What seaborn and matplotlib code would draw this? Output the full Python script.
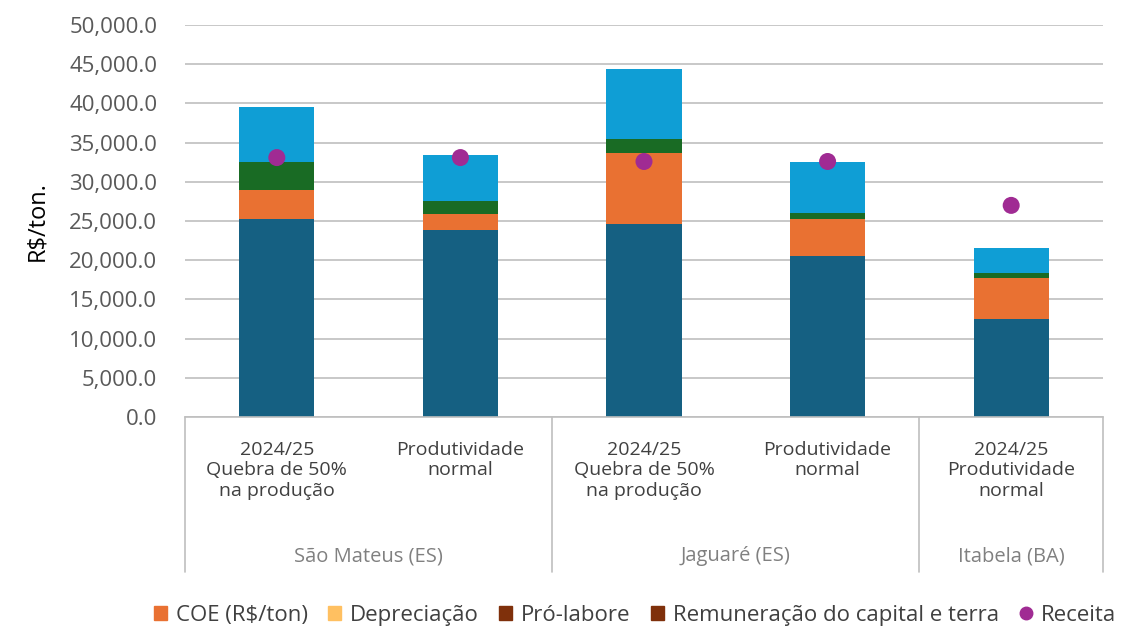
import matplotlib
matplotlib.use("Agg")
import matplotlib.pyplot as plt
import matplotlib.transforms as mtransforms
from matplotlib.patches import Patch
from matplotlib.lines import Line2D
import numpy as np
import pandas as pd
import seaborn as sns

# data (R$/ton)
categorias = [
    "2024/25\nQuebra de 50%\nna produção",
    "Produtividade\nnormal",
    "2024/25\nQuebra de 50%\nna produção",
    "Produtividade\nnormal",
    "2024/25\nProdutividade\nnormal",
]
grupos = ["São Mateus (ES)", "Jaguaré (ES)", "Itabela (BA)"]
grupo_limites = [-0.5, 1.5, 3.5, 4.5]

seg_azul_escuro = [25300, 23850, 24600, 20500, 12500]
seg_coe = [3650, 2050, 9100, 4750, 5200]
seg_verde = [3550, 1650, 1800, 750, 700]
seg_azul_claro = [7000, 5850, 8900, 6500, 3150]
receita = [33100, 33100, 32600, 32600, 27000]

cores = ["#156082", "#E97132", "#196B24", "#0F9ED5"]
cor_receita = "#A02B93"

sns.set_style("white")
plt.rcParams["font.family"] = ["Open Sans", "DejaVu Sans"]

fig = plt.figure(figsize=(11.24, 6.28), dpi=100)
ax = fig.add_axes([0.1646, 0.336, 0.8167, 0.624])

x = list(range(len(categorias)))
camadas = [seg_azul_escuro, seg_coe, seg_verde, seg_azul_claro]
acumulado = np.cumsum(np.array(camadas), axis=0)

# draw cumulative totals from top to bottom so they stack
for i in range(len(camadas) - 1, -1, -1):
    df = pd.DataFrame({"x": x, "y": acumulado[i]})
    sns.barplot(data=df, x="x", y="y", color=cores[i], width=0.41,
                saturation=1, ax=ax, native_scale=True, linewidth=0,
                edgecolor="none")

sns.scatterplot(x=x, y=receita, color=cor_receita, s=150, edgecolor="none",
                ax=ax, zorder=5)

ax.set_xlim(-0.5, 4.5)
ax.set_ylim(0, 50000)
ax.set_yticks(np.arange(0, 50001, 5000))
ax.set_yticklabels([f"{v:,.1f}" for v in np.arange(0, 50001, 5000)])
ax.yaxis.grid(True, color="#BFBFBF", linewidth=1.2)
ax.set_axisbelow(True)
for s in ["top", "right", "left"]:
    ax.spines[s].set_visible(False)
ax.spines["bottom"].set_color("#BFBFBF")
ax.spines["bottom"].set_linewidth(1.2)

ax.set_xticks(x)
ax.set_xticklabels(categorias, fontsize=14, color="#404040", linespacing=1.2)
ax.tick_params(axis="x", length=0, pad=17)
ax.tick_params(axis="y", length=0, labelsize=16, labelcolor="#595959", pad=20)
ax.set_xlabel("")
ax.set_ylabel("R$/ton.", fontsize=17, color="#000000", labelpad=14)

# group separators and labels
trans = mtransforms.blended_transform_factory(ax.transData, ax.transAxes)
for b in grupo_limites:
    ax.plot([b, b], [0, -0.395], transform=trans, color="#BFBFBF",
            linewidth=1.2, clip_on=False)
for i, g in enumerate(grupos):
    meio = (grupo_limites[i] + grupo_limites[i + 1]) / 2
    ax.text(meio, -0.355, g, transform=trans, ha="center", va="center",
            fontsize=14.5, color="#808080")

handles = [
    Patch(color="#E97132", label="COE (R$/ton)"),
    Patch(color="#FFC061", label="Depreciação"),
    Patch(color="#7F300B", label="Pró-labore"),
    Patch(color="#7F300B", label="Remuneração do capital e terra"),
    Line2D([], [], marker="o", linestyle="none", color=cor_receita,
           markersize=9, label="Receita"),
]
fig.legend(handles=handles, loc="center", bbox_to_anchor=(0.565, 0.02),
           ncol=5, frameon=False, fontsize=16, labelcolor="#404040",
           handlelength=0.6, handleheight=0.6, handletextpad=0.4,
           columnspacing=0.9)

fig.savefig("out.png", dpi=100)
